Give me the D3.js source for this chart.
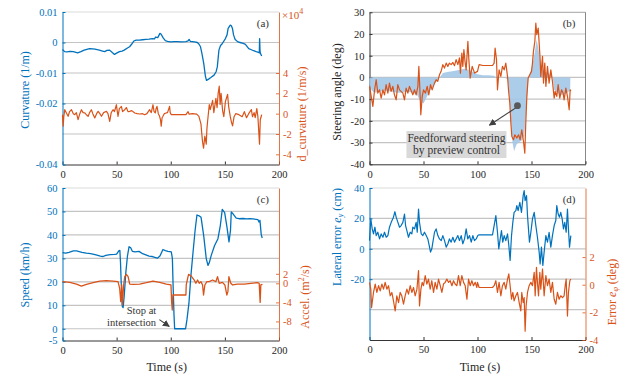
<!DOCTYPE html>
<html>
<head>
<meta charset="utf-8">
<script src="https://cdn.jsdelivr.net/npm/d3@7"></script>
<style>
  body { margin: 0; background: #fff; }
  svg text { font-family: "Liberation Serif", "Times New Roman", serif; }
</style>
</head>
<body>
<svg id="fig" width="628" height="376"></svg>
<script>
// ---- data: [time (s), value] ----
const xTickVals = [0, 50, 100, 150, 200];

// (a) road curvature (1/m) and its rate (x1e4 1/m/s)
const curvature = [[0,-0.0023],[2,-0.003],[4,-0.0031],[7,-0.0029],[10,-0.003],[14,-0.0034],[17,-0.003],[20,-0.0025],[25,-0.002],[28,-0.0021],[30,-0.0022],[34,-0.0025],[37,-0.0028],[39,-0.003],[41,-0.0026],[43.5,-0.0025],[46,-0.0033],[48,-0.0039],[50,-0.0035],[52.6,-0.003],[55,-0.0028],[57,-0.0025],[60,-0.0018],[62,-0.0014],[64,-0.0005],[66,0.0005],[68,0.0008],[71,0.0008],[74,0.0009],[77,0.001],[80,0.0011],[83,0.0013],[85,0.0012],[86,0.0018],[88,0.0016],[90,0.003],[91,0.0028],[93,0.0015],[95,0.0006],[97,0.0004],[100,0.0002],[103,0.0003],[106,0.0003],[110,0.0002],[114,0.0003],[116,0.0005],[117,0.001],[118,0.0004],[122,0.0002],[124.5,0],[126,-0.0005],[127.5,-0.0014],[129,-0.004],[130.5,-0.0069],[132,-0.011],[133,-0.0124],[135,-0.012],[137,-0.0115],[140,-0.0107],[142,-0.0095],[143,-0.008],[144.5,-0.0025],[146,-0.001],[147.5,-0.0004],[150.5,0.0013],[152,0.0025],[153,0.0046],[155,0.0057],[156,0.0055],[157,0.0046],[158,0.0025],[159.5,0.001],[162,0.0002],[164,0],[167,-0.0003],[169,-0.0006],[172,-0.002],[174,-0.0023],[176.5,-0.0027],[179,-0.003],[181,-0.0032],[181.8,-0.0034],[182.1,0.0013],[182.5,-0.003],[183,-0.0037],[184,-0.0044]];
const dCurvature = [[0,-0.1],[0.6,-1.24],[1.2,-0.3],[2.1,0.39],[3.5,0.1],[5.2,-0.26],[6.5,0.2],[8.3,0.39],[10,0.0],[11.3,-0.1],[12.8,0.1],[14.4,-0.59],[16,0.0],[17.5,0.39],[19,0.1],[20.6,0.07],[22,-0.1],[23.7,-0.26],[25,0.1],[26.7,0.39],[28,0.0],[29.8,-0.42],[31.5,0.0],[32.9,0.23],[34.5,0.0],[36,-0.26],[38,0.1],[40.6,0.23],[42,0.0],[43.6,-0.75],[45,0.1],[46.7,0.39],[48,0.2],[49.8,0.88],[50.5,0.3],[51.3,-0.26],[52.5,0.5],[54.4,0.72],[55.5,0.2],[57.5,0.39],[59,0.6],[60.5,0.2],[62,0.23],[64,0.3],[66.7,0.07],[69,0.0],[71.3,-0.03],[74,0.0],[75.9,-0.1],[78,0.0],[80.5,0.39],[82,0.1],[83.6,0.88],[84.6,0.2],[85.7,0.07],[86.5,0.5],[87.3,0.72],[88.5,0.0],[89.7,-0.26],[90.5,-0.6],[91.2,-1.24],[92,-0.4],[92.8,-0.26],[94,0.0],[95.8,0.07],[97,0.1],[98.9,0.72],[99.5,0.1],[100.5,-0.1],[105,-0.1],[110,-0.1],[114,-0.1],[116,0.2],[117,-0.05],[120,0.0],[124,-0.05],[126,-0.26],[127.9,-1.0],[128.7,-2.0],[129.4,-2.8],[130.3,-3.4],[131.5,-2.2],[132.8,-3.0],[133.4,-1.5],[134,-0.8],[135.6,0.9],[136.5,0.4],[138.7,1.3],[139.8,0.1],[141.7,1.5],[142.8,0.6],[143.8,2.0],[144.8,2.7],[145.6,0.9],[146.5,2.0],[147.9,0.3],[149,-0.3],[150.5,1.2],[152.5,1.9],[153.5,0.7],[155,-0.3],[156,-0.8],[157.1,-1.2],[158.5,-0.3],[160,0.0],[163,-0.1],[166,-0.3],[168,0.2],[170,-0.4],[172,0.0],[174.5,0.4],[175.5,-0.3],[177,0.1],[178,-0.4],[179.5,0.5],[180.5,-0.3],[182,-3.0],[182.7,-0.6],[183.5,-0.3],[184,-0.1]];

// (b) steering angle (deg): measured and feedforward part
const steering = [[0,-4.1],[1.6,-8.7],[3.1,-13.3],[4.7,-5.7],[6.2,-1.05],[7.7,-7.2],[9.3,-5.7],[10.8,-9.5],[12.4,-5.7],[13.9,-8],[15.4,-3.3],[17,-7.2],[18.5,-2.6],[20,-6.4],[21.6,-4.1],[23.1,-8],[24.7,-10.3],[26.2,-3.3],[27.8,-5.7],[30.9,-7.2],[32.4,-10.3],[33.9,-4.9],[35.5,-7.2],[37,-4.1],[40.1,-8],[41.7,-5.7],[43.2,-8],[44.8,-4.1],[45.7,5.1],[46.9,-8.7],[47.5,-17.2],[48.8,-8.7],[50,-5.7],[51.8,-7.2],[53.4,-4.1],[54.9,-8],[56.5,-3.3],[58,-5.7],[60.2,-2.6],[61.7,-1.05],[63.2,-1.8],[64.8,1.2],[66.3,2.8],[67.9,5.9],[69.4,4.3],[71,6.6],[72.5,5.1],[74,6.6],[75.6,5.9],[77.2,6.9],[78.7,5.4],[80.2,8.2],[81.8,5.9],[83.3,9],[84.2,2],[85.5,11.2],[86.4,5.1],[87.4,12.8],[88.6,6.6],[89.5,3.5],[91.1,16.6],[92,8.2],[93.2,-0.3],[95.1,5.1],[97.3,2],[100,2.8],[101.5,5.9],[105,5.5],[110,5.5],[113.9,5.5],[115.4,6.6],[116.3,13.5],[117.6,8.2],[118.5,-5.7],[120,3.5],[121.6,0.5],[123.1,5.1],[124.7,3.5],[126.2,6.6],[127.8,0.5],[128.7,-5.7],[129.9,-11.8],[130.9,-21],[131.8,-27.2],[133.3,-28.7],[134.6,-26.4],[136.4,-27.9],[138,-26.4],[139.5,-28.7],[141,-24.1],[142.6,-29.5],[143.8,-34.9],[144.7,-21],[145.7,-8.7],[146.9,-0.3],[148.4,1.2],[150,2.8],[150.9,6.6],[151.8,12],[153.1,16.6],[154,25],[154.9,19.7],[156.2,22.7],[157.1,15.8],[158,8.2],[158.6,0.5],[160.2,9.7],[161.1,-2.6],[162.3,6.6],[163.3,-4.1],[164.8,5.1],[166.3,-2.6],[167.9,3.5],[169.4,-1.8],[171,-9.5],[171.9,-6.4],[173.4,-8.7],[174.7,-3.3],[176.2,-9.5],[177.8,-5.7],[179.3,-7.2],[180.2,-10.3],[181.8,-4.9],[183.3,-8.7],[184.9,-14.9],[185.8,-5.7],[186.4,-6.4]];
const feedforward = [[0,-3],[2,-6],[5,-7],[10,-6.5],[15,-6],[20,-6.5],[25,-7],[30,-7],[35,-6.5],[40,-7],[44,-8],[47,-11],[50,-12],[53,-9],[56,-6],[59,-4],[62,-2],[65,0],[68,2],[72,2.5],[78,3],[84,3.5],[88,4],[92,3.5],[96,2.5],[100,1.5],[105,1],[110,1],[115,0.8],[118,0],[125,0],[128,-1],[129.3,-7],[130.9,-19],[132.4,-30],[133.9,-34],[136,-31],[138,-30],[141,-29],[143.2,-27],[144.7,-19],[146.3,-6],[147.2,0],[149.4,3],[151.8,8],[153.4,12.8],[154.6,17.4],[155.5,15.8],[157.1,11],[158.6,6],[161,3],[164.8,2],[168,1],[169.7,0],[171,-5.7],[174,-7.2],[177,-8],[180,-8],[183,-7],[185.8,-6],[186,0]];

// (c) speed (km/h) and acceleration (m2/s)
const speed = [[0,32.5],[3,32.2],[6,32.6],[10,33.2],[13,33.2],[18,32.6],[22,32.2],[26,32],[31,31.5],[35,31],[37.5,30.8],[40,31.3],[44,31.6],[48,31.7],[50,31.8],[52,33.2],[53,33.4],[53.6,28],[54.2,20],[55.3,9.4],[56,9],[57,14],[58.5,24],[60,31],[61.5,35],[63,34.5],[64.5,33],[67,32.8],[70.7,33],[74,32],[77,31.5],[80,31],[83,30.8],[87.6,30.1],[90,31],[92.8,33.8],[95,33.3],[97.4,33],[100.5,32.8],[101.5,30],[102.2,18],[103,6],[103.6,0],[113.7,0],[115,4],[116.8,10.9],[118.5,22],[120.5,32.2],[122.5,42],[124.2,48.5],[126.7,48],[128,47.5],[130.4,39.8],[132.8,29.9],[134.4,27],[135.5,28],[137.4,31.3],[140.5,35.5],[143.6,38.4],[145.8,44],[147.6,50.9],[149.8,49.5],[151.9,43.4],[153.8,37],[155.2,42],[155.9,49.8],[157.5,49],[160.5,47.2],[163,46.9],[166.7,47],[170,46.8],[173,46.9],[176,46.8],[180.6,46.5],[181.5,45.5],[182.4,46.2],[183.6,40.1],[184.5,38.7]];
const accel = [[0,0.35],[6.7,0.2],[12.9,-0.15],[17.5,-0.57],[22.1,-0.22],[28.3,0.13],[34.4,0.48],[40.5,0.55],[46.7,0.48],[51.3,0.35],[52.8,-1.05],[53.8,-3.85],[54.7,-0.35],[55.3,-4.55],[56.5,-0.35],[57.5,1.39],[59,1.88],[60.6,1.39],[62.1,-0.15],[65.2,-0.22],[71.3,-0.15],[77.5,0.13],[83.6,0.48],[89.8,0.2],[95.9,-0.15],[100.2,-0.35],[100.8,-3.85],[101.4,-5.6],[102,-2.45],[114,-2.45],[114.3,-0.35],[115.6,1.04],[116.5,1.88],[118.6,1.6],[121.7,0.69],[123.2,0],[124.8,0.69],[126.3,0],[127.9,0.35],[129.4,-0.35],[130.3,-2.45],[131.5,-0.35],[133.4,0.35],[135.5,0.35],[138.6,0.69],[141.7,0.35],[143.2,1.39],[144.8,0],[147.8,0.2],[150,-0.35],[151.8,-2.45],[152.8,-1.75],[153.7,1.39],[155.5,0],[157.1,-0.35],[161.7,-0.15],[167.8,-0.15],[174,0],[180.1,0.13],[181.7,0],[182.6,-4],[183.2,-0.35],[184.7,-0.22]];

// (d) lateral error (cm) and heading error (deg)
const latError = [[0,5.4],[1.2,19.7],[2.5,13.1],[3.7,9.8],[5,14.2],[6.2,8.7],[7.7,10.9],[9.3,6.5],[10.8,9.8],[12.4,7.6],[13.9,10.9],[15.5,7.6],[17,8.7],[18.5,14.2],[20.1,17.4],[22.2,20.8],[23.5,24.4],[24.7,20.8],[26.3,17.4],[27.8,14.2],[29.3,15.3],[30.9,17.4],[32.4,22.9],[33.4,15.3],[34.6,12],[36.1,7.6],[37.7,10.9],[39.2,9.8],[40.1,14.2],[41.7,13.1],[43.2,17.4],[44.2,10.9],[45.4,26.2],[46.3,17.4],[47.9,9.8],[49.4,8.7],[50.9,10.9],[52.5,8.7],[54,6.5],[55.6,1.1],[56.5,-2.2],[57.7,0],[58.7,4.4],[60.2,10.9],[61.7,13.1],[63.3,8.7],[64.8,6.5],[66.4,5.4],[67.9,8.7],[69.5,5.4],[71,1.1],[72.6,3.3],[74,6.5],[75.6,4.4],[77.2,7.6],[78.7,4.4],[80.2,6.5],[81.8,8.7],[83.3,5.4],[84.9,8.7],[86.4,3.3],[88,6.5],[89.5,13.1],[91,6.5],[92.6,8.7],[94.2,4.4],[95.7,8.7],[97.2,5.4],[98.8,6.5],[100.3,8.7],[101.5,9.2],[113.9,9.2],[115.4,15.3],[117,21.8],[118.5,10.9],[119.7,0],[121,6.5],[122.2,12],[123.4,4.4],[124.7,8.7],[126.2,5.4],[127.8,9.8],[129,2.2],[130.2,-7.7],[131.5,8.7],[132.7,17.4],[133.9,24],[135.5,25.1],[136.4,28.4],[137.6,25.1],[139.2,30.6],[140.7,24],[142.3,35],[143.2,38.3],[144.1,31.7],[145.4,35],[146.3,21.8],[147.2,13.1],[148.1,4.4],[149.4,10.9],[150.9,19.7],[152.5,24],[154,15.3],[155.5,7.6],[157.1,-2.2],[158,-9.9],[159.2,1.1],[160.5,-11],[161.7,-2.2],[163.3,8.7],[164.8,4.4],[166.3,10.9],[167.9,1.1],[169.4,8.7],[171,15.3],[172.5,18.6],[173.4,28.4],[174.7,22.9],[175.9,20.8],[177.1,24],[178.4,19.7],[179.6,13.1],[180.8,17.4],[182.1,10.9],[183.3,26.2],[184.2,13.1],[185.2,1.1],[186.4,8.7]];
const headError = [[0,0.17],[1.2,-0.32],[1.9,-1.66],[3.7,-0.56],[5.3,0.05],[6.8,-0.56],[8.4,-0.07],[9.9,-0.44],[11.45,0.05],[13,-0.32],[14.5,0.17],[16.1,-0.32],[17.6,-0.07],[19.2,-0.8],[20.7,-0.56],[22.2,-1.17],[23.8,-1.9],[25.3,-0.8],[26.9,-1.29],[28.4,-0.56],[29.9,-0.8],[31.5,-1.41],[33,-0.8],[34.6,-0.32],[36.1,-0.68],[37.7,-0.07],[39.2,-0.56],[40.8,-0.2],[42.3,-0.8],[43.9,-0.32],[45.4,1.02],[46.3,-1.54],[47.6,-0.32],[48.8,0.17],[50,-0.07],[51.6,0.66],[53.1,0.05],[54.6,0.41],[56.2,-0.32],[57.7,0.29],[59.3,-0.56],[60.8,0.17],[62.4,-0.32],[63.9,0.41],[65.5,-0.07],[67,-0.56],[68.5,0.05],[70.1,0.17],[71.6,0.41],[73.2,0.17],[74.7,0.29],[76.3,-0.07],[77.8,0.29],[79.3,0.05],[80.9,-0.07],[82.4,0.66],[84,-0.07],[85.5,0.66],[87.1,0.17],[88.6,-0.07],[90.2,-1.05],[91.7,0.41],[93.2,-0.07],[94.8,0.29],[96.3,-0.07],[97.9,0.17],[99.4,-0.2],[100,0.17],[101.5,-0.2],[113.9,-0.2],[115.4,-0.07],[117,0.29],[118.5,-0.56],[120,0.17],[121.6,-0.8],[123.1,-0.07],[124.7,0.17],[126.2,-0.32],[127.8,0.41],[129,0.78],[130.2,-0.07],[131.5,-1.05],[132.7,-0.56],[133.9,-1.17],[135.5,-0.8],[137,-0.56],[138.6,-1.29],[140.1,-1.9],[141,-0.56],[142.3,-1.29],[143.2,-0.93],[144.1,-3.36],[145,-1.54],[146.3,-0.56],[147.8,-0.07],[149.4,0.17],[150.9,-0.07],[152.5,0.9],[153.4,-0.8],[154.6,1.26],[155.5,0.17],[156.5,-0.8],[157.7,0.9],[158.6,-0.32],[160.2,1.14],[161.7,-0.8],[163.3,0.66],[164.8,-0.07],[166.3,0.41],[167.9,-0.56],[169.4,0.17],[171,-1.05],[172.5,-1.41],[174,-0.56],[175.6,-1.05],[177.1,-0.8],[178.7,-0.93],[180.2,-0.8],[181.2,-0.07],[182.1,0.41],[183.3,-2.27],[184.2,-0.56],[185.5,0.29],[186.4,0.41]];

// ---- drawing ----
const svg = d3.select("#fig");
const blue = "#0072BD", orange = "#D95319", ink = "#262626";
const fontFam = "Liberation Serif, Times New Roman, serif";

svg.append("defs").append("marker")
    .attr("id", "arrow")
    .attr("viewBox", "0 0 10 10")
    .attr("refX", 9).attr("refY", 5)
    .attr("markerWidth", 7).attr("markerHeight", 7)
    .attr("markerUnits", "userSpaceOnUse")
    .attr("orient", "auto")
  .append("path")
    .attr("d", "M0,0 L10,5 L0,10 z")
    .attr("fill", "#404040");

const fmt = d => d === 0 ? "0" : String(d);

function drawPanel(p) {
    const x = d3.scaleLinear().domain([0, 200]).range([p.left, p.right]);
    const yL = d3.scaleLinear().domain(p.leftDomain).range([p.bottom, p.top]);
    const yR = p.rightDomain ? d3.scaleLinear().domain(p.rightDomain).range([p.bottom, p.top]) : null;
    const g = svg.append("g");

    // gridlines
    g.selectAll(".grid").data(p.grid).join("line")
        .attr("x1", p.left).attr("x2", p.right)
        .attr("y1", d => yL(d)).attr("y2", d => yL(d))
        .attr("stroke", "#c4c4c4").attr("stroke-width", 1.2);

    // top (and right) frame
    g.append("line").attr("x1", p.left).attr("x2", p.right)
        .attr("y1", p.top).attr("y2", p.top)
        .attr("stroke", p.box ? "#8a8a8a" : "#d0d0d0").attr("stroke-width", 0.8);
    if (p.box) {
        g.append("line").attr("x1", p.right).attr("x2", p.right)
            .attr("y1", p.top).attr("y2", p.bottom)
            .attr("stroke", "#6a6a6a").attr("stroke-width", 0.8);
    }

    const xAxisG = g.append("g")
        .attr("transform", `translate(0,${p.bottom})`)
        .call(d3.axisBottom(x).tickValues(xTickVals).tickSize(-3).tickSizeOuter(0).tickPadding(6));
    xAxisG.attr("font-family", fontFam).attr("font-size", 10.5);
    xAxisG.selectAll("text").attr("fill", ink);
    xAxisG.selectAll("line, path").attr("stroke", "#333");

    const leftColor = p.leftColor || ink;
    const yAxisG = g.append("g")
        .attr("transform", `translate(${p.left},0)`)
        .call(d3.axisLeft(yL).tickValues(p.leftTicks).tickFormat(fmt)
            .tickSize(-3).tickSizeOuter(0).tickPadding(5));
    yAxisG.attr("font-family", fontFam).attr("font-size", 10.5);
    yAxisG.selectAll("text").attr("fill", leftColor);
    yAxisG.selectAll("line, path").attr("stroke", p.leftColor || "#333");

    if (yR) {
        const rAxisG = g.append("g")
            .attr("transform", `translate(${p.right},0)`)
            .call(d3.axisRight(yR).tickValues(p.rightTicks).tickFormat(fmt)
                .tickSize(-3).tickSizeOuter(0).tickPadding(4));
        rAxisG.attr("font-family", fontFam).attr("font-size", 10.5);
        rAxisG.selectAll("text").attr("fill", orange);
        rAxisG.selectAll("line, path").attr("stroke", orange).attr("stroke-opacity", 0.8);
    }

    // panel tag
    g.append("text")
        .attr("x", p.right - 10).attr("y", p.top + 15)
        .attr("text-anchor", "end")
        .attr("font-size", 11).attr("fill", "#333")
        .text(p.tag);

    return { x, yL, yR, g };
}

function addLine(g, data, x, y, color, width) {
    g.append("path")
        .datum(data)
        .attr("d", d3.line().x(d => x(d[0])).y(d => y(d[1])))
        .attr("fill", "none")
        .attr("stroke", color)
        .attr("stroke-width", width)
        .attr("stroke-linejoin", "round");
}

function rotLabel(x, y, color, build) {
    const t = svg.append("text")
        .attr("transform", `translate(${x},${y}) rotate(-90)`)
        .attr("text-anchor", "middle")
        .attr("dominant-baseline", "central")
        .attr("font-size", 12)
        .attr("fill", color);
    build(t);
    return t;
}

// (a)
const pa = drawPanel({
    left: 62.5, right: 279, top: 12, bottom: 164.5,
    leftDomain: [-0.04, 0.01], leftTicks: [0.01, 0, -0.01, -0.02, -0.04],
    rightDomain: [-5, 10], rightTicks: [4, 2, 0, -2, -4],
    grid: [0, -0.01, -0.02, -0.03], leftColor: blue, tag: "(a)"
});
addLine(pa.g, curvature, pa.x, pa.yL, blue, 1.3);
addLine(pa.g, dCurvature, pa.x, pa.yR, orange, 1.2);
rotLabel(25, 90, blue, t => t.text("Curvature (1/m)"));
rotLabel(302, 114, orange, t => t.text("d_curvature (1/m/s)"));
svg.append("text").attr("x", 282).attr("y", 19)
    .attr("font-size", 11).attr("fill", orange)
    .text("×10").append("tspan").attr("dy", -5).attr("font-size", 8).text("4");

// (b)
const pb = drawPanel({
    left: 369.5, right: 585.5, top: 12.3, bottom: 164.3,
    leftDomain: [-40, 30], leftTicks: [30, 20, 10, 0, -10, -20, -30, -40],
    grid: [20, 10, 0, -10, -20, -30], box: true, tag: "(b)"
});
pb.g.append("path")
    .datum(feedforward)
    .attr("d", d3.area().x(d => pb.x(d[0])).y0(pb.yL(0)).y1(d => pb.yL(d[1])))
    .attr("fill", "#a3c8e8").attr("fill-opacity", 0.9);
addLine(pb.g, steering, pb.x, pb.yL, orange, 1.2);
rotLabel(337, 92, ink, t => t.text("Steering angle (deg)"));

// annotation box
const boxT = 80.5;
pb.g.append("rect")
    .attr("x", pb.x(boxT) - 50).attr("y", pb.yL(-24.7))
    .attr("width", 100).attr("height", 27)
    .attr("fill", "#d9d9d9");
pb.g.append("text").attr("x", pb.x(boxT)).attr("y", pb.yL(-29.5))
    .attr("text-anchor", "middle").attr("font-size", 11.5).attr("fill", "#333")
    .text("Feedforward steering");
pb.g.append("text").attr("x", pb.x(boxT)).attr("y", pb.yL(-35.2))
    .attr("text-anchor", "middle").attr("font-size", 11.5).attr("fill", "#333")
    .text("by preview control");
pb.g.append("line")
    .attr("x1", pb.x(135.5)).attr("y1", pb.yL(-14))
    .attr("x2", pb.x(111)).attr("y2", pb.yL(-22))
    .attr("stroke", "#404040").attr("stroke-width", 1.1)
    .attr("marker-end", "url(#arrow)");
pb.g.append("circle")
    .attr("cx", pb.x(137)).attr("cy", pb.yL(-13)).attr("r", 3.4)
    .attr("fill", "#595959");

// (c)
const pc = drawPanel({
    left: 62.5, right: 279, top: 188, bottom: 340.5,
    leftDomain: [-5, 60], leftTicks: [60, 50, 40, 30, 20, 10, 0, -5],
    rightDomain: [-12, 20], rightTicks: [2, 0, -4, -8],
    grid: [50, 40, 30, 20, 10, 0], leftColor: blue, tag: "(c)"
});
addLine(pc.g, speed, pc.x, pc.yL, blue, 1.3);
addLine(pc.g, accel, pc.x, pc.yR, orange, 1.3);
rotLabel(25, 275, blue, t => t.text("Speed (km/h)"));
rotLabel(305, 297, orange, t => {
    t.append("tspan").text("Accel. (m");
    t.append("tspan").attr("dy", -4).attr("font-size", 8).text("2");
    t.append("tspan").attr("dy", 4).text("/s)");
});
pc.g.append("text").attr("x", pc.x(73)).attr("y", pc.yL(6.2))
    .attr("text-anchor", "middle").attr("font-size", 10.5).attr("fill", "#333")
    .text("Stop at");
pc.g.append("text").attr("x", pc.x(63.8)).attr("y", pc.yL(1.1))
    .attr("text-anchor", "middle").attr("font-size", 10.5).attr("fill", "#333")
    .text("intersection");
pc.g.append("line")
    .attr("x1", pc.x(89.5)).attr("y1", pc.yL(3.9))
    .attr("x2", pc.x(98.6)).attr("y2", pc.yL(1.0))
    .attr("stroke", "#404040").attr("stroke-width", 1.1)
    .attr("marker-end", "url(#arrow)");

// (d)
const pd = drawPanel({
    left: 369.5, right: 585.5, top: 188, bottom: 340,
    leftDomain: [-60, 40], leftTicks: [40, 20, 0, -20],
    rightDomain: [-4, 7], rightTicks: [2, 0, -2, -4],
    grid: [20, 0, -20, -40], leftColor: blue, tag: "(d)"
});
addLine(pd.g, latError, pd.x, pd.yL, blue, 1.2);
addLine(pd.g, headError, pd.x, pd.yR, orange, 1.2);
rotLabel(337, 237, blue, t => {
    t.append("tspan").text("Lateral error ");
    t.append("tspan").attr("font-style", "italic").text("e");
    t.append("tspan").attr("dy", 3).attr("font-size", 8).attr("font-style", "italic").text("y");
    t.append("tspan").attr("dy", -3).text(" (cm)");
});
rotLabel(612, 292, orange, t => {
    t.append("tspan").text("Error ");
    t.append("tspan").attr("font-style", "italic").text("e");
    t.append("tspan").attr("dy", 3).attr("font-size", 8).attr("font-style", "italic").text("φ");
    t.append("tspan").attr("dy", -3).text(" (deg)");
});

// x-axis titles
[[166.7, "Time (s)"], [480, "Time (s)"]].forEach(([xx, s]) => {
    svg.append("text").attr("x", xx).attr("y", 371)
        .attr("text-anchor", "middle").attr("font-size", 12).attr("fill", ink)
        .text(s);
});
</script>
</body>
</html>
